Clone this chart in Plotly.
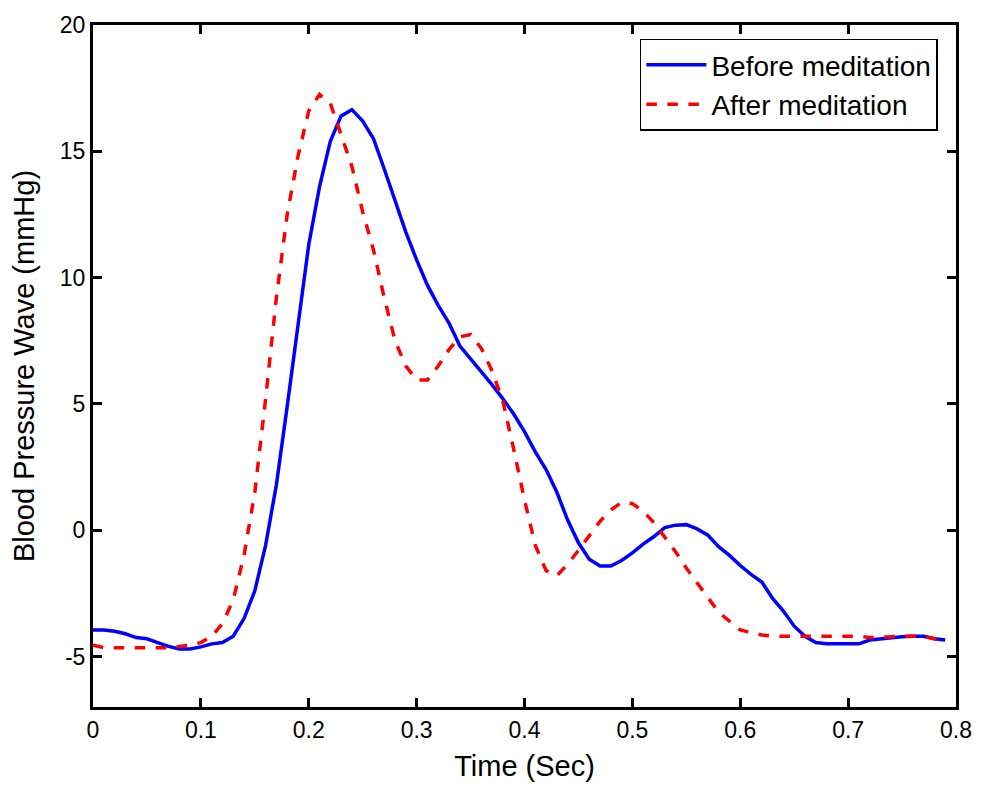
import plotly.graph_objects as go

time_s = [round(i * 0.01, 2) for i in range(80)]

before_meditation = [
    -3.95, -3.95, -4.0, -4.1, -4.25, -4.3, -4.45, -4.6, -4.7, -4.7,
    -4.62, -4.5, -4.45, -4.2, -3.5, -2.4, -0.6, 1.8, 4.9, 8.1,
    11.3, 13.6, 15.4, 16.4, 16.65, 16.2, 15.5, 14.3, 13.0, 11.8,
    10.7, 9.7, 8.9, 8.2, 7.3, 6.8, 6.3, 5.75, 5.2, 4.6,
    3.9, 3.1, 2.4, 1.5, 0.4, -0.5, -1.15, -1.42, -1.42, -1.2,
    -0.9, -0.55, -0.25, 0.1, 0.2, 0.22, 0.05, -0.2, -0.65, -1.0,
    -1.4, -1.75, -2.05, -2.7, -3.2, -3.8, -4.2, -4.45, -4.5, -4.5,
    -4.5, -4.5, -4.35, -4.3, -4.28, -4.22, -4.2, -4.2, -4.3, -4.35,
]

after_meditation = [
    -4.55, -4.65, -4.65, -4.65, -4.65, -4.65, -4.65, -4.65, -4.6, -4.55,
    -4.45, -4.2, -3.7, -2.75, -1.0, 1.5, 5.2, 9.2, 12.5, 14.8,
    16.6, 17.25, 16.9, 15.7, 14.4, 12.6, 11.1, 9.2, 7.5, 6.5,
    5.95, 5.95, 6.5, 7.15, 7.65, 7.75, 7.2, 6.3, 5.1, 3.2,
    1.2, -0.6, -1.6, -1.8, -1.35, -0.8, -0.2, 0.35, 0.8, 1.1,
    1.05, 0.75, 0.3, -0.25, -0.85, -1.5, -2.1, -2.7, -3.25, -3.6,
    -3.95, -4.05, -4.15, -4.2, -4.2, -4.2, -4.2, -4.2, -4.2, -4.2,
    -4.2, -4.2, -4.25, -4.25, -4.22, -4.2, -4.2, -4.2, -4.3, -4.4,
]

x_ticks = [0, 0.1, 0.2, 0.3, 0.4, 0.5, 0.6, 0.7, 0.8]
x_tick_labels = ["0", "0.1", "0.2", "0.3", "0.4", "0.5", "0.6", "0.7", "0.8"]
y_ticks = [-5, 0, 5, 10, 15, 20]
y_tick_labels = ["-5", "0", "5", "10", "15", "20"]

fig = go.Figure()
fig.add_trace(go.Scatter(
    x=time_s, y=before_meditation, mode="lines", name="Before meditation",
    line=dict(color="#0000ff", width=3.5),
))
fig.add_trace(go.Scatter(
    x=time_s, y=after_meditation, mode="lines", name="After meditation",
    line=dict(color="#ff0000", width=3.5, dash="dash"),
))

axis_common = dict(
    showgrid=False, zeroline=False, showline=True, linecolor="black",
    linewidth=3, mirror="ticks", ticks="inside", ticklen=9, tickwidth=2.5,
    tickcolor="black", tickfont=dict(family="Liberation Sans, Arial", size=23, color="black"),
)

fig.update_layout(
    width=984, height=791,
    margin=dict(l=93, r=19, t=22, b=84),
    paper_bgcolor="white", plot_bgcolor="white",
    font=dict(family="Liberation Sans, Arial", color="black"),
    xaxis=dict(range=[0, 0.8], tickvals=x_ticks, ticktext=x_tick_labels,
               title=dict(text="Time (Sec)", font=dict(size=29), standoff=15),
               **axis_common),
    yaxis=dict(range=[-7, 20], tickvals=y_ticks, ticktext=y_tick_labels,
               title=dict(text="Blood Pressure Wave (mmHg)", font=dict(size=29), standoff=17),
               **axis_common),
    legend=dict(x=0.979, y=0.98, xanchor="right", yanchor="top",
                bgcolor="white", bordercolor="black", borderwidth=1.5,
                font=dict(size=28, color="black"), itemwidth=60,
                tracegroupgap=0),
    showlegend=True,
)

fig.write_html("out.html")
